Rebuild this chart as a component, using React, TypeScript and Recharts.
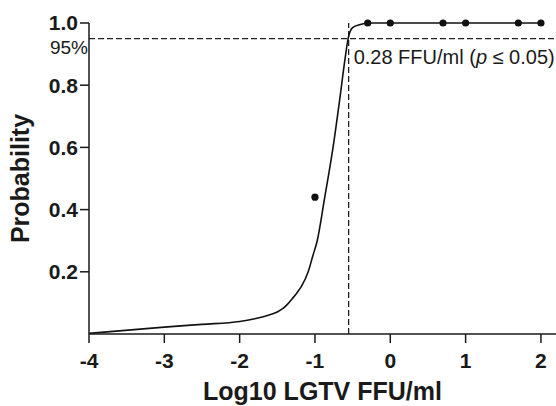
import React from "react";
import {
  ComposedChart,
  Line,
  Scatter,
  XAxis,
  YAxis,
  ReferenceLine,
  Label,
} from "recharts";

// fitted probit-style curve
const curveX = [-4, -3, -2.5, -2, -1.8, -1.6, -1.5, -1.42, -1.36, -1.3, -1.24, -1.18, -1.09, -1.03, -0.97, -0.87, -0.76, -0.67, -0.6, -0.56, -0.5, -0.4, -0.3, 2];
const curveY = [0.002, 0.022, 0.031, 0.04, 0.049, 0.062, 0.071, 0.083, 0.097, 0.114, 0.132, 0.153, 0.2, 0.25, 0.3, 0.44, 0.6, 0.757, 0.886, 0.95, 0.985, 0.995, 1, 1];

// observed points
const obsX = [-1, -0.3, 0, 0.7, 1, 1.7, 2];
const obsY = [0.44, 1, 1, 1, 1, 1, 1];

const xTicks = [-4, -3, -2, -1, 0, 1, 2];
const yTicks = [0.2, 0.4, 0.6, 0.8, 1.0];

const cutoffLog = -0.553; // log10(0.28)
const cutoffProb = 0.95;

const FONT = "'Liberation Sans', Arial, Helvetica, sans-serif";
const INK = "#1a1a1a";

const curveData = curveX.map((x, i) => ({ x, y: curveY[i] }));
const obsData = obsX.map((x, i) => ({ x, y: obsY[i] }));

const App = () => {
  return (
    <div style={{ position: "absolute", left: 0, top: 0 }}>
      <ComposedChart
        width={556}
        height={406}
        margin={{ top: 23, right: 0, bottom: 0, left: 0 }}
      >
        <XAxis
          dataKey="x"
          type="number"
          domain={[-4, 2.2]}
          ticks={xTicks}
          allowDataOverflow
          height={72}
          stroke={INK}
          strokeWidth={1.5}
          tickSize={9}
          tickMargin={10}
          tick={{ fill: INK, fontSize: 21, fontWeight: "bold", fontFamily: FONT }}
        >
          <Label
            content={({ viewBox }: any) => (
              <text
                x={viewBox.x + viewBox.width / 2}
                y={400}
                textAnchor="middle"
                fill={INK}
                fontSize={25}
                fontWeight="bold"
                fontFamily={FONT}
              >
                Log10 LGTV FFU/ml
              </text>
            )}
          />
        </XAxis>
        <YAxis
          dataKey="y"
          type="number"
          domain={[0, 1]}
          ticks={yTicks}
          width={89}
          stroke={INK}
          strokeWidth={1.5}
          tickSize={9}
          tickMargin={2}
          tickFormatter={(v: number) => v.toFixed(1)}
          tick={{ fill: INK, fontSize: 21, fontWeight: "bold", fontFamily: FONT }}
        >
          <Label
            content={({ viewBox }: any) => {
              const cy = viewBox.y + viewBox.height / 2;
              return (
                <text
                  x={29}
                  y={cy}
                  transform={`rotate(-90, 29, ${cy})`}
                  textAnchor="middle"
                  fill={INK}
                  fontSize={25}
                  fontWeight="bold"
                  fontFamily={FONT}
                >
                  Probability
                </text>
              );
            }}
          />
        </YAxis>

        <ReferenceLine
          y={cutoffProb}
          stroke="#222"
          strokeWidth={1.3}
          strokeDasharray="6 3"
          label={{
            content: ({ viewBox }: any) => (
              <text
                x={viewBox.x - 1}
                y={viewBox.y + 15}
                textAnchor="end"
                fill={INK}
                fontSize={19}
                fontFamily={FONT}
              >
                95%
              </text>
            ),
          }}
        />
        <ReferenceLine
          x={cutoffLog}
          stroke="#222"
          strokeWidth={1.3}
          strokeDasharray="6 3"
          label={{
            content: ({ viewBox }: any) => (
              <text
                x={viewBox.x + 5}
                y={viewBox.y + 41}
                fill={INK}
                fontSize={20}
                fontFamily={FONT}
              >
                0.28 FFU/ml (<tspan fontStyle="italic">p</tspan> ≤ 0.05)
              </text>
            ),
          }}
        />

        <Line
          data={curveData}
          dataKey="y"
          type="monotone"
          stroke="#111"
          strokeWidth={1.6}
          dot={false}
          activeDot={false}
          isAnimationActive={false}
        />
        <Scatter
          data={obsData}
          dataKey="y"
          fill="#111"
          isAnimationActive={false}
          shape={(p: any) => <circle cx={p.cx} cy={p.cy} r={3.6} fill="#111" />}
        />
      </ComposedChart>
    </div>
  );
};

export default App;
